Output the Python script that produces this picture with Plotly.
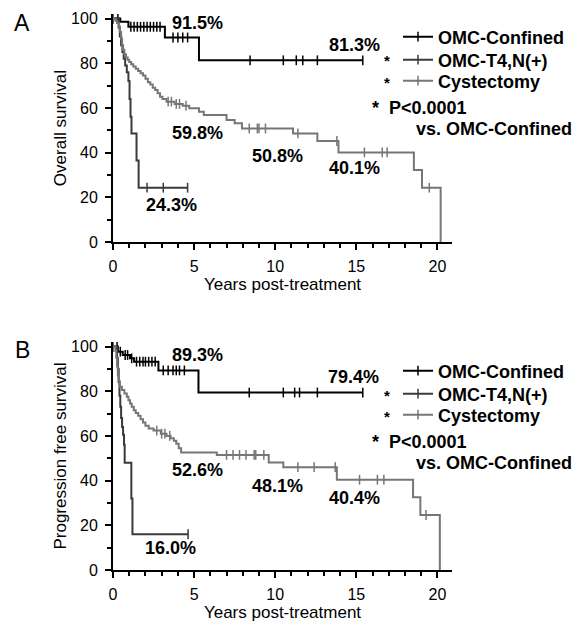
import plotly.graph_objects as go
from bisect import bisect_right

# ---------------- data ----------------
groups = ["OMC-Confined", "OMC-T4,N(+)", "Cystectomy"]
colors = ["#000000", "#3a3a3a", "#767676"]

# Panel A : overall survival
A_conf_t = [0, 0.45, 0.95, 3.2, 5.3, 15.4]
A_conf_s = [100, 98.5, 96.3, 91.5, 81.3, 81.3]
A_conf_c = [0.3, 1.1, 1.3, 1.5, 1.7, 1.9, 2.1, 2.3, 2.5, 2.7, 2.9, 3.7, 4.0, 4.3, 4.6,
            8.45, 10.5, 11.3, 11.7, 12.6, 15.4]

A_t4_t = [0, 0.35, 0.42, 0.5, 0.58, 0.66, 0.75, 0.85, 0.95, 1.02, 1.08, 1.14, 1.45, 1.58, 4.6]
A_t4_s = [100, 96, 92, 88, 85, 82, 79, 76, 72, 64, 56, 48.6, 36.5, 24.3, 24.3]
A_t4_c = [2.1, 3.1, 4.6]

A_cys_t = [0, 0.15, 0.25, 0.35, 0.42, 0.5, 0.56, 0.62, 0.7, 0.8, 0.9, 1.0, 1.12, 1.25, 1.4,
           1.55, 1.7, 1.85, 2.0, 2.15, 2.3, 2.45, 2.6, 2.75, 2.9, 3.05, 3.3, 3.8, 4.3, 4.7,
           5.3, 5.6, 7.0, 7.5, 7.95, 11.1, 12.6, 13.9, 18.55, 19.05, 20.2]
A_cys_s = [100, 99, 98, 96.5, 94, 91, 88, 86, 84, 82.5, 81.5, 80.5, 79.5, 78.5, 77.5,
           76.5, 75.5, 74.5, 73, 71.5, 70.5, 69, 68, 66.5, 65, 64, 62.8, 61.8, 61, 59.8,
           58.3, 56.8, 54.6, 53.1, 50.8, 48.6, 45.2, 40.1, 32.2, 24.3, 0]
A_cys_c = [3.4, 3.6, 3.9, 4.1, 4.5, 8.4, 8.9, 9.0, 9.4, 11.4, 13.8, 15.5, 16.6, 16.9, 19.5]

# Panel B : progression free survival
B_conf_t = [0, 0.3, 0.6, 1.05, 1.3, 2.8, 5.27, 15.4]
B_conf_s = [100, 97.7, 96.2, 94.7, 93.2, 89.3, 79.4, 79.4]
B_conf_c = [0.25, 0.45, 0.75, 0.9, 1.15, 1.45, 1.65, 1.85, 2.0, 2.2, 2.4, 2.6, 3.1, 3.4,
            3.7, 3.9, 4.1, 4.4, 8.4, 10.5, 11.2, 11.5, 12.6, 15.4]

B_t4_t = [0, 0.25, 0.3, 0.35, 0.4, 0.45, 0.5, 0.56, 0.62, 0.68, 0.72, 1.13, 1.2, 4.63]
B_t4_s = [100, 95, 90, 84, 78, 73, 68, 64, 60.5, 56, 48, 32, 16, 16]
B_t4_c = [4.63]

B_cys_t = [0, 0.15, 0.2, 0.25, 0.3, 0.35, 0.42, 0.55, 0.7, 0.85, 0.95, 1.05, 1.15, 1.28,
           1.4, 1.55, 1.7, 1.85, 2.0, 2.2, 2.5, 2.95, 3.3, 3.55, 3.75, 3.9, 4.05, 4.2,
           6.4, 9.6, 10.5, 13.8, 18.5, 18.95, 20.15]
B_cys_s = [100, 98, 95, 91, 87, 84.5, 82, 80.5, 79, 77.5, 76, 74.5, 73, 71.5,
           70.3, 69, 67.5, 66, 64.5, 63.3, 62.4, 61, 60, 59, 57.8, 56.5, 54.5, 52.6,
           51.5, 48.1, 46, 40.4, 32.5, 24.6, 0]
B_cys_c = [2.7, 3.0, 3.2, 3.5, 7.0, 7.4, 7.8, 8.2, 8.7, 8.8, 9.3, 11.4, 12.4, 13.7,
           15.2, 16.3, 16.7, 19.3]

# percentage labels
A_labels_x = [5.2, 14.9, 5.2, 10.15, 14.9, 3.6]
A_labels_y = [98, 88, 48.7, 38.5, 33, 16.5]
A_labels_t = ["91.5%", "81.3%", "59.8%", "50.8%", "40.1%", "24.3%"]
B_labels_x = [5.2, 14.8, 5.2, 10.15, 14.9, 3.57]
B_labels_y = [96.2, 86.2, 44.7, 37.6, 32, 9.7]
B_labels_t = ["89.3%", "79.4%", "52.6%", "48.1%", "40.4%", "16.0%"]

x_ticks = [0, 5, 10, 15, 20]
y_ticks = [0, 20, 40, 60, 80, 100]

# ---------------- layout geometry ----------------
OFF = 8                      # page body margin of the exported html
W, H = 580 - OFF, 625 - OFF
L, R = 113 - OFF, 128
PW = W - L - R
FONT = "Liberation Sans, Arial, sans-serif"


def px_x(p):
    """window pixel -> paper x"""
    return (p - OFF - L) / PW


def px_y(p):
    """window pixel -> paper y"""
    return 1 - (p - OFF) / H


def km_trace(t, s, c, name, color, xa, ya, legend):
    xs = sorted(set(t) | set(c))
    ys = [s[bisect_right(t, x) - 1] for x in xs]
    cset = set(c)
    mcol = [color if (i == 0 or x in cset) else "rgba(0,0,0,0)" for i, x in enumerate(xs)]
    return go.Scatter(
        x=xs, y=ys, name=name, mode="lines+markers",
        line=dict(color=color, width=2, shape="hv"),
        marker=dict(symbol="line-ns", size=7, color=mcol,
                    line=dict(width=1.5, color=mcol)),
        xaxis=xa, yaxis=ya, legend=legend, hoverinfo="skip",
    )


fig = go.Figure()
A_sets = [(A_conf_t, A_conf_s, A_conf_c), (A_t4_t, A_t4_s, A_t4_c), (A_cys_t, A_cys_s, A_cys_c)]
B_sets = [(B_conf_t, B_conf_s, B_conf_c), (B_t4_t, B_t4_s, B_t4_c), (B_cys_t, B_cys_s, B_cys_c)]
legend_ids_A = ["legend", "legend2", "legend3"]
legend_ids_B = ["legend4", "legend5", "legend6"]
for (t, s, c), g, col, lid in zip(A_sets, groups, colors, legend_ids_A):
    fig.add_trace(km_trace(t, s, c, g, col, "x", "y", lid))
for (t, s, c), g, col, lid in zip(B_sets, groups, colors, legend_ids_B):
    fig.add_trace(km_trace(t, s, c, g, col, "x2", "y2", lid))

axis_common = dict(showline=True, linecolor="black", linewidth=2, showgrid=False,
                   zeroline=False, ticks="outside", ticklen=6, tickwidth=2,
                   tickcolor="black", tickfont=dict(family=FONT, size=16, color="black"))

A_dom = [px_y(242), px_y(242 - 2.235 * 102)]
B_dom = [px_y(570), px_y(570 - 2.235 * 102)]

xa = dict(axis_common, range=[0, 20.9], tickvals=x_ticks, domain=[0, 1],
          ticklabelstandoff=3,
          minor=dict(dtick=1, tick0=0, ticks="outside", ticklen=4, tickwidth=1.5,
                     tickcolor="black"),
          title=dict(text="Years post-treatment", font=dict(family=FONT, size=17, color="black"),
                     standoff=2))
ya = dict(axis_common, range=[0, 102], tickvals=y_ticks, ticklabelstandoff=4,
          minor=dict(dtick=10, tick0=0, ticks="outside", ticklen=4, tickwidth=1.5,
                     tickcolor="black"))

legend_font = dict(family=FONT, size=18, color="black", weight="bold")
row_y = [37, 60, 81, 371, 394, 415]
legends = {}
for lid, ry in zip(legend_ids_A + legend_ids_B, row_y):
    legends[lid] = dict(x=px_x(398), y=px_y(ry), xanchor="left", yanchor="middle",
                        font=legend_font, itemwidth=30, bgcolor="rgba(0,0,0,0)",
                        borderwidth=0)

fig.update_layout(
    width=W, height=H,
    margin=dict(l=L, r=R, t=0, b=0, autoexpand=False),
    paper_bgcolor="white", plot_bgcolor="white",
    font=dict(family=FONT, color="black"),
    xaxis=dict(xa, anchor="y"),
    yaxis=dict(ya, domain=A_dom, anchor="x",
               title=dict(text="Overall survival", font=dict(family=FONT, size=17, color="black"),
                          standoff=0)),
    xaxis2=dict(xa, anchor="y2"),
    yaxis2=dict(ya, domain=B_dom, anchor="x2",
                title=dict(text="Progression free survival",
                           font=dict(family=FONT, size=17, color="black"), standoff=0)),
    showlegend=True,
    **legends,
)

ann = []
lab_font = dict(family=FONT, size=18, color="black", weight="bold")
for lx, ly, lt in zip(A_labels_x, A_labels_y, A_labels_t):
    ann.append(dict(x=lx, y=ly, xref="x", yref="y", text=lt, showarrow=False, font=lab_font,
                    xanchor="center", yanchor="middle"))
for lx, ly, lt in zip(B_labels_x, B_labels_y, B_labels_t):
    ann.append(dict(x=lx, y=ly, xref="x2", yref="y2", text=lt, showarrow=False, font=lab_font,
                    xanchor="center", yanchor="middle"))

star = dict(family=FONT, size=15, color="black", weight="bold")
for top in (0, 334):
    ann.append(dict(x=px_x(387), y=px_y(61 + top), xref="paper", yref="paper", text="*",
                    showarrow=False, font=star, xanchor="center", yanchor="middle"))
    ann.append(dict(x=px_x(387), y=px_y(82 + top), xref="paper", yref="paper", text="*",
                    showarrow=False, font=star, xanchor="center", yanchor="middle"))
    ann.append(dict(x=px_x(370), y=px_y(108 + top), xref="paper", yref="paper",
                    text="*  P<0.0001", xanchor="left", yanchor="middle", showarrow=False,
                    font=lab_font))
    ann.append(dict(x=px_x(414), y=px_y(129 + top), xref="paper", yref="paper",
                    text="vs. OMC-Confined", xanchor="left", yanchor="middle",
                    showarrow=False, font=lab_font))

ann.append(dict(x=px_x(22), y=px_y(8), xref="paper", yref="paper", text="A",
                showarrow=False, xanchor="center", yanchor="top",
                font=dict(family=FONT, size=23, color="black")))
ann.append(dict(x=px_x(22), y=px_y(335), xref="paper", yref="paper", text="B",
                showarrow=False, xanchor="center", yanchor="top",
                font=dict(family=FONT, size=23, color="black")))
fig.update_layout(annotations=ann)

fig.write_html("out.html")
